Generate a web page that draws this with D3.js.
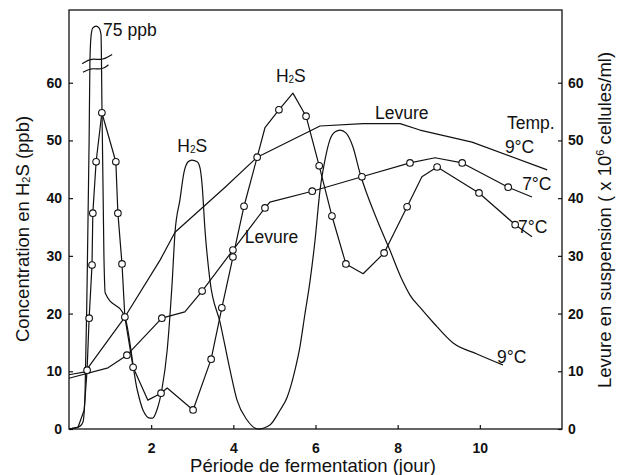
<!DOCTYPE html>
<html>
<head>
<meta charset="utf-8">
<script src="https://cdn.jsdelivr.net/npm/d3@7"></script>
<style>
  body { margin: 0; background: #fff; }
  text { font-family: "Liberation Sans", Arial, sans-serif; fill: #111; }
</style>
</head>
<body>
<svg id="chart" width="619" height="475"></svg>
<script>
// H2S at 9°C (smooth curve, no markers); peak above the axis break is 75 ppb
var h2s9Day = [0, 0.27, 0.34, 0.39, 0.44, 0.49, 0.51, 0.54, 0.58, 0.66, 0.73, 0.78, 0.79, 0.80, 0.85, 0.88, 1.36, 1.66, 1.80, 1.97,
  2.04, 2.14, 2.26, 2.39, 2.51, 2.58, 2.70, 2.80, 2.90, 2.99, 3.12, 3.19, 3.24, 3.31, 3.43, 3.68, 3.92, 4.09, 4.33, 4.60,
  4.89, 5.14, 5.31, 5.50, 5.62, 5.74, 5.87, 5.99, 6.11, 6.23, 6.35, 6.48, 6.60, 6.74, 6.91, 7.08, 7.50, 7.81, 8.11, 8.30,
  8.54, 8.86, 9.35, 9.93, 10.56];
var h2s9Val = [0, 0.5, 1.2, 5.9, 25.0, 50.1, 64.0, 68.3, 69.5, 69.8, 69.5, 68.3, 64.0, 57.0, 30.0, 23.6, 19.4, 6.8, 3.3, 1.9,
  1.9, 3.3, 6.8, 13.7, 25.3, 34.0, 39.7, 44.5, 46.3, 46.6, 46.3, 45.2, 42.3, 34.5, 25.8, 18.4, 10.2, 5.0, 1.6, 0,
  0.7, 3.3, 5.5, 10.2, 14.2, 19.8, 25.8, 32.8, 41.4, 46.6, 50.1, 51.5, 51.8, 51.3, 48.9, 44.4, 36.2, 31.0, 25.8, 23.2,
  21.1, 18.5, 14.9, 13.0, 11.1];

// H2S at 7°C (open circles where mark = 1)
var h2s7Day = [0, 0.22, 0.37, 0.44, 0.49, 0.56, 0.58, 0.66, 0.80, 1.14, 1.19, 1.29, 1.36, 1.56, 1.92, 2.24, 2.39, 3.02, 3.46, 3.72,
  3.99, 4.26, 4.58, 4.77, 5.11, 5.45, 5.77, 6.09, 6.40, 6.74, 7.16, 7.67, 8.23, 8.59, 8.96, 9.98, 10.86, 11.27];
var h2s7Val = [0, 0.3, 3.3, 10.2, 19.2, 28.4, 37.4, 46.3, 54.8, 46.3, 37.4, 28.6, 19.4, 10.7, 5.0, 6.2, 7.1, 3.3, 12.1, 21.0,
  29.8, 38.6, 47.1, 52.2, 55.3, 58.2, 54.2, 45.6, 36.9, 28.6, 26.9, 30.5, 38.5, 43.7, 45.4, 40.9, 35.4, 33.3];
var h2s7Mark = [0, 0, 0, 1, 1, 1, 1, 1, 1, 1, 1, 1, 1, 1, 0, 1, 0, 1, 1, 1,
  1, 1, 1, 0, 1, 0, 1, 1, 1, 1, 0, 1, 1, 0, 1, 1, 1, 0];

// Levure (x 10^6 cellules/ml) at 9°C, right axis
var lev9Day = [0, 0.39, 1.36, 2.22, 2.58, 3.80, 4.58, 6.11, 7.16, 8.06, 8.54, 9.81, 11.64];
var lev9Val = [9.4, 9.9, 19.4, 29.3, 34.1, 41.9, 47.1, 52.5, 52.9, 52.9, 51.8, 49.7, 44.9];

// Levure at 7°C, right axis
var lev7Day = [0, 0.95, 1.41, 2.26, 2.82, 3.24, 3.99, 4.77, 4.89, 5.92, 7.13, 8.30, 8.91, 9.57, 10.69, 11.27];
var lev7Val = [8.8, 10.6, 12.8, 19.2, 20.3, 23.9, 31.0, 38.3, 39.3, 41.2, 43.7, 46.1, 47.0, 46.1, 41.9, 40.2];
var lev7Mark = [0, 0, 1, 1, 0, 1, 1, 1, 0, 1, 1, 1, 0, 1, 1, 0];

var xTicks = [2, 4, 6, 8, 10];
var yTicks = [0, 10, 20, 30, 40, 50, 60];

var svg = d3.select("#chart");
var plotLeft = 69, plotRight = 562, plotTop = 10, plotBottom = 429;

var x = d3.scaleLinear().domain([0, 12]).range([plotLeft, plotRight]);
var y = d3.scaleLinear().domain([0, 72.6]).range([plotBottom, plotTop]);
var yR = d3.scaleLinear().domain([0, 72.6]).range([plotBottom, plotTop]);

function pts(days, vals, marks) {
  return days.map(function(d, i) { return {d: d, v: vals[i], m: marks ? marks[i] : 0}; });
}

// axes (ticks point inward)
var xAxis = svg.append("g").attr("transform", "translate(0," + plotBottom + ")")
  .call(d3.axisBottom(x).tickValues(xTicks).tickSize(-4).tickPadding(14).tickFormat(d3.format("d")));
var yAxis = svg.append("g").attr("transform", "translate(" + plotLeft + ",0)")
  .call(d3.axisLeft(y).tickValues(yTicks).tickSize(-4).tickPadding(7));
var yAxisR = svg.append("g").attr("transform", "translate(" + plotRight + ",0)")
  .call(d3.axisRight(yR).tickValues(yTicks).tickSize(-4).tickPadding(6));

[xAxis, yAxis, yAxisR].forEach(function(g) {
  g.select(".domain").remove();
  g.selectAll("line").attr("stroke", "#111").attr("stroke-width", 1.2);
  g.selectAll("text").style("font-family", "Liberation Sans, Arial, sans-serif")
    .style("font-size", "14px").style("font-weight", "bold").attr("fill", "#111");
});

// frame
svg.append("rect")
  .attr("x", plotLeft).attr("y", plotTop)
  .attr("width", plotRight - plotLeft).attr("height", plotBottom - plotTop)
  .attr("fill", "none").attr("stroke", "#111").attr("stroke-width", 1.3);

var smooth = d3.line().x(function(p) { return x(p.d); }).y(function(p) { return y(p.v); })
  .curve(d3.curveMonotoneX);
var straight = d3.line().x(function(p) { return x(p.d); }).y(function(p) { return y(p.v); });
var straightR = d3.line().x(function(p) { return x(p.d); }).y(function(p) { return yR(p.v); });

var h2s9 = pts(h2s9Day, h2s9Val);
var h2s7 = pts(h2s7Day, h2s7Val, h2s7Mark);
var lev9 = pts(lev9Day, lev9Val);
var lev7 = pts(lev7Day, lev7Val, lev7Mark);

function drawLine(data, gen) {
  svg.append("path").datum(data).attr("d", gen)
    .attr("fill", "none").attr("stroke", "#111").attr("stroke-width", 1.2)
    .attr("stroke-linejoin", "round");
}
drawLine(lev9, straightR);
drawLine(lev7, straightR);
drawLine(h2s9, smooth);
drawLine(h2s7, straight);

// open circle markers
svg.selectAll("circle.h7")
  .data(h2s7.filter(function(p) { return p.m; }))
  .enter().append("circle")
  .attr("cx", function(p) { return x(p.d); })
  .attr("cy", function(p) { return y(p.v); })
  .attr("r", 3.3).attr("fill", "#fff").attr("stroke", "#111").attr("stroke-width", 1.1);
svg.selectAll("circle.l7")
  .data(lev7.filter(function(p) { return p.m; }))
  .enter().append("circle")
  .attr("cx", function(p) { return x(p.d); })
  .attr("cy", function(p) { return yR(p.v); })
  .attr("r", 3.3).attr("fill", "#fff").attr("stroke", "#111").attr("stroke-width", 1.1);

// axis break marks on the 75 ppb peak
var brk = d3.line().x(function(p) { return x(p[0]); }).y(function(p) { return y(p[1]); }).curve(d3.curveBasis);
[[[0.32, 63.3], [0.55, 64.3], [0.8, 63.8], [1.05, 64.9]],
 [[0.34, 61.8], [0.55, 62.6], [0.8, 62.2], [0.96, 63.1]]].forEach(function(w) {
  svg.append("path").attr("d", brk(w)).attr("fill", "none").attr("stroke", "#111").attr("stroke-width", 1.2);
});

// annotations
function label(d, v, str, scale) {
  return svg.append("text").attr("x", x(d)).attr("y", (scale || y)(v))
    .style("font-size", "17.5px").text(str);
}
function h2sLabel(d, v) {
  var t = svg.append("text").attr("x", x(d)).attr("y", y(v)).attr("text-anchor", "middle")
    .style("font-size", "17.5px");
  t.append("tspan").text("H");
  t.append("tspan").text("2").style("font-size", "10px").attr("dy", 1);
  t.append("tspan").text("S").attr("dy", -1);
}
label(0.83, 68.1, "75 ppb");
h2sLabel(3.0, 48.0);
h2sLabel(5.4, 60.1);
label(7.45, 53.7, "Levure", yR);
label(4.28, 32.2, "Levure", yR);
label(10.66, 52.0, "Temp.", yR);
label(10.61, 47.8, "9°C", yR);
label(11.03, 41.4, "7°C", yR);
label(10.93, 34.0, "7°C");
label(10.42, 11.4, "9°C");

// axis titles
svg.append("text").attr("x", 313).attr("y", 472).attr("text-anchor", "middle")
  .style("font-size", "18.5px").text("Période de fermentation (jour)");

var lt = svg.append("text").attr("transform", "translate(29,229) rotate(-90)")
  .attr("text-anchor", "middle").style("font-size", "18.5px");
lt.append("tspan").text("Concentration en H");
lt.append("tspan").text("2").style("font-size", "11px").attr("dy", 1);
lt.append("tspan").text("S (ppb)").attr("dy", -1);

var rt = svg.append("text").attr("transform", "translate(611,220) rotate(-90)")
  .attr("text-anchor", "middle").style("font-size", "18.5px");
rt.append("tspan").text("Levure en suspension ( x 10");
rt.append("tspan").text("6").style("font-size", "11px").attr("dy", -7);
rt.append("tspan").text(" cellules/ml)").attr("dy", 7);
</script>
</body>
</html>
